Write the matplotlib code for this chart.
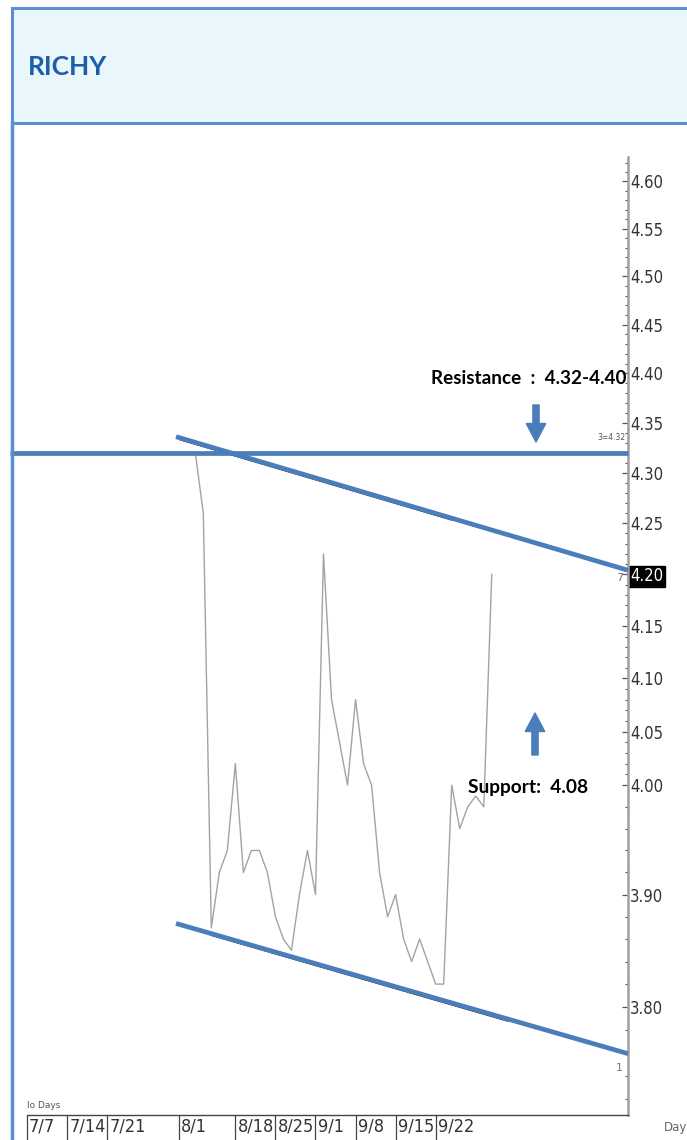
import matplotlib
matplotlib.use("Agg")
import matplotlib.pyplot as plt
import matplotlib.transforms as mtransforms
from matplotlib.patches import Rectangle
from matplotlib.lines import Line2D
from matplotlib.ticker import FixedLocator, NullFormatter

# ---------------- data ----------------
title = "RICHY"
date_labels = ["7/7", "7/14", "7/21", "8/1", "8/18", "8/25", "9/1", "9/8", "9/15", "9/22"]
date_index = [0, 5, 10, 19, 26, 31, 36, 41, 46, 51]

price_index = list(range(21, 59))
price_close = [4.32, 4.26, 3.87, 3.92, 3.94, 4.02, 3.92, 3.94, 3.94, 3.92,
               3.88, 3.86, 3.85, 3.90, 3.94, 3.90, 4.22, 4.08, 4.04, 4.00,
               4.08, 4.02, 4.00, 3.92, 3.88, 3.90, 3.86, 3.84, 3.86, 3.84,
               3.82, 3.82, 4.00, 3.96, 3.98, 3.99, 3.98, 4.20]

resistance_level = 4.32
resistance_x = [-2.1, 75]
upper_trend_x = [18.6, 75]
upper_trend_y = [4.336, 4.204]
lower_trend_x = [18.6, 75]
lower_trend_y = [3.874, 3.759]
sw_upper_x = [19, 53]
sw_upper_y = [4.335, 4.255]
sw_lower_x = [23, 60]
sw_lower_y = [3.865, 3.789]

major_yticks = [3.80, 3.90, 4.00, 4.05, 4.10, 4.15, 4.20, 4.25, 4.30, 4.35,
                4.40, 4.45, 4.50, 4.55, 4.60]
minor_yticks = [3.72, 3.74, 3.76, 3.78, 3.82, 3.84, 3.86, 3.88, 3.92, 3.94,
                3.96, 3.98] + [round(4.0 + 0.01 * k, 2) for k in range(1, 63) if k % 5 != 0]

last_price_label = "4.20"

# ---------------- figure ----------------
W, H = 687, 1140
fig = plt.figure(figsize=(W / 100, H / 100), dpi=100)
fig.patch.set_facecolor("white")

def fx(x):
    return x / W

def fy(y):
    return 1 - y / H

narrow = ["DejaVu Sans"]
blue = "#4a7ebb"
frame_blue = "#5a8fd4"

# header box
fig.patches.append(Rectangle((fx(12), fy(123)), fx(700) - fx(12), fy(8) - fy(123),
                             transform=fig.transFigure, facecolor="#e9f7fc",
                             edgecolor=frame_blue, linewidth=2.2, zorder=0))
fig.lines.append(Line2D([fx(12), fx(12)], [fy(123), fy(1145)], transform=fig.transFigure,
                        color=frame_blue, linewidth=2.5))
fig.text(fx(28), fy(67), title, color="#1c5ea8", fontsize=19, fontweight="bold",
         family=["Lato", "DejaVu Sans"], ha="left", va="center")

# axes
ax = fig.add_axes([fx(27), fy(1115), fx(628) - fx(27), fy(157) - fy(1115)])
ax.set_facecolor("none")
ax.set_yscale("log")
ax.set_xlim(0, 75)
ax.set_ylim(3.706, 4.626)

for s in ["left", "top"]:
    ax.spines[s].set_visible(False)
ax.spines["right"].set_color("#a0a0a0")
ax.spines["right"].set_linewidth(1.8)
ax.spines["bottom"].set_color("#444444")
ax.spines["bottom"].set_linewidth(1.0)

ax.yaxis.tick_right()
ax.yaxis.set_major_locator(FixedLocator(major_yticks))
ax.yaxis.set_minor_locator(FixedLocator(minor_yticks))
ax.yaxis.set_minor_formatter(NullFormatter())
ax.set_yticklabels([f"{v:.2f}" for v in major_yticks])
ax.tick_params(axis="y", which="major", direction="in", length=4, width=0.9,
               color="#555555", pad=1.5, labelsize=12, labelcolor="#333333")
ax.tick_params(axis="y", which="minor", direction="in", length=2.5, width=0.8,
               color="#555555")
for lab in ax.get_yticklabels():
    lab.set_family(narrow)
    lab.set_fontstretch("condensed")
    if lab.get_text() == last_price_label:
        lab.set_color("white")
        lab.set_bbox(dict(facecolor="black", edgecolor="black", pad=1.2))

ax.set_xticks(date_index)
ax.set_xticklabels([""] * len(date_index))
ax.tick_params(axis="x", direction="out", length=19, width=0.9, color="#444444")
for lbl, idx in zip(date_labels, date_index):
    ax.annotate(lbl, xy=(idx, 0), xycoords=("data", "axes fraction"),
                xytext=(1.5, -2), textcoords="offset points", ha="left", va="top",
                fontsize=13, family=narrow, fontstretch="condensed", color="#333333",
                annotation_clip=False)

# price line
ax.plot(price_index, price_close, color="#a3a3a3", linewidth=1.0, zorder=2)

# software trend lines (thin black, slightly below)
off = mtransforms.offset_copy(ax.transData, fig=fig, x=0, y=-2.0, units="dots")
ax.plot(sw_upper_x, sw_upper_y, color="#222222", linewidth=0.7, transform=off, zorder=3)
ax.plot(sw_lower_x, sw_lower_y, color="#222222", linewidth=0.7, transform=off, zorder=3)

# blue drawn lines
ax.plot(resistance_x, [resistance_level, resistance_level], color=blue, linewidth=3.4,
        clip_on=False, zorder=4, solid_capstyle="butt")
ax.plot(upper_trend_x, upper_trend_y, color=blue, linewidth=3.4, clip_on=False, zorder=4,
        solid_capstyle="butt")
ax.plot(lower_trend_x, lower_trend_y, color=blue, linewidth=3.4, clip_on=False, zorder=4,
        solid_capstyle="butt")

# annotations
fig.text(fx(431), fy(379), "Resistance  :  4.32-4.40", fontsize=13.6, fontweight="bold",
         family=["Lato", "DejaVu Sans"], ha="left", va="center", color="black", zorder=6)
fig.text(fx(468), fy(787), "Support:  4.08", fontsize=13.8, fontweight="bold",
         family=["Lato", "DejaVu Sans"], ha="left", va="center", color="black", zorder=6)

arrow_style = "simple,head_length=0.95,head_width=1.0,tail_width=0.32"
ax.annotate("", xy=(536, H - 442), xycoords="figure pixels",
            xytext=(536, H - 405), textcoords="figure pixels",
            arrowprops=dict(arrowstyle=arrow_style, mutation_scale=14, color=blue,
                            shrinkA=0, shrinkB=0))
ax.annotate("", xy=(535, H - 713), xycoords="figure pixels",
            xytext=(535, H - 755), textcoords="figure pixels",
            arrowprops=dict(arrowstyle=arrow_style, mutation_scale=14, color=blue,
                            shrinkA=0, shrinkB=0))

# small software texts
fig.text(fx(626), fy(438), "3=4.32", fontsize=5.5, family=narrow, color="#555555",
         ha="right", va="center")
fig.text(fx(623), fy(578), "7", fontsize=8, family=narrow, color="#777777",
         ha="right", va="center")
fig.text(fx(623), fy(1068), "1", fontsize=8, family=narrow, color="#777777",
         ha="right", va="center")
fig.text(fx(27), fy(1105), "lo Days", fontsize=6.5, family=narrow, color="#555555",
         ha="left", va="center")
fig.text(fx(664), fy(1127), "Day", fontsize=8.5, family=narrow, color="#666666",
         ha="left", va="center")

fig.savefig("out.png", dpi=100)
